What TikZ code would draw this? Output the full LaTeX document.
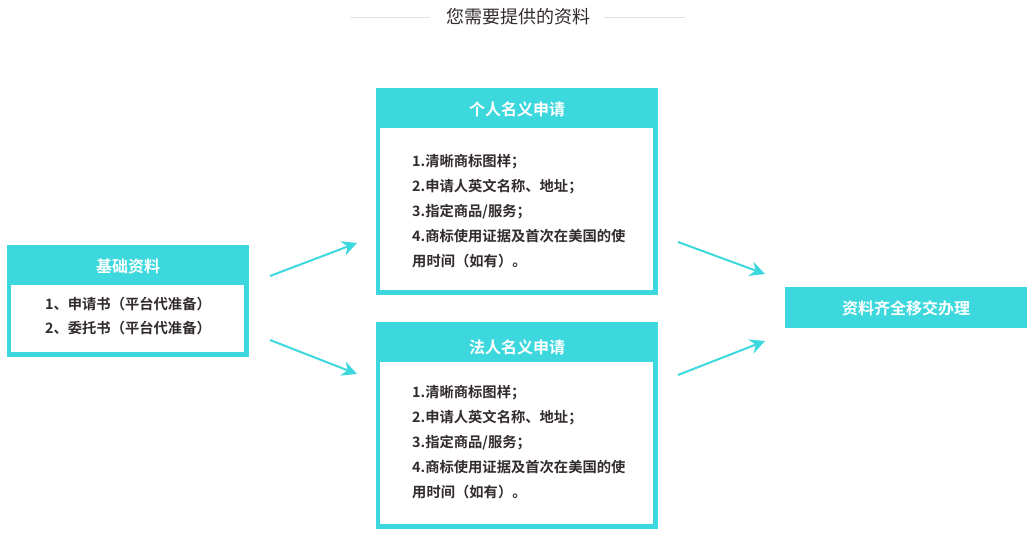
\documentclass[tikz,border=0pt]{standalone}
\usepackage{fontspec}
\usetikzlibrary{arrows.meta}
\newfontfamily\cjk{Noto Sans CJK SC}
\newfontfamily\cjkb{Noto Sans CJK SC Bold}
\definecolor{teal1}{RGB}{60,216,222}
\definecolor{txt}{RGB}{51,44,44}
\definecolor{rule1}{RGB}{224,224,224}
\tikzset{
  hdr/.style={text=white,font=\cjkb\fontsize{16}{18}\selectfont,inner sep=0pt},
  body/.style={text=txt,font=\cjkb\fontsize{14.3}{16}\selectfont,inner sep=0pt},
  flow/.style={teal1,line width=2pt,-{Stealth[length=15pt,width=15pt,inset=5pt]}},
  ttl/.style={text=txt,font=\cjk\fontsize{18}{20}\selectfont,inner sep=0pt}
}
\begin{document}
\begin{tikzpicture}[x=1pt,y=-1pt]
\useasboundingbox (0,0) rectangle (1034,540);
% title
\node[ttl] (title) at (518,17) {您需要提供的资料};
\coordinate (tl1) at (350,18); \coordinate (tl2) at (430,18);
\coordinate (tr1) at (604,18); \coordinate (tr2) at (685,18);
\draw[rule1,line width=1pt] (tl1) -- (tl2);
\draw[rule1,line width=1pt] (tr1) -- (tr2);
% box 1
\fill[teal1] (7,245) rectangle (249,357);
\fill[white] (11,285) rectangle (244,352);
\node[hdr] (h1) at (128,266) {基础资料};
\node[body,anchor=base] (b1a) at (128,309) {1、申请书（平台代准备）};
\node[body,anchor=base] (b1b) at (128,334) {2、委托书（平台代准备）};
% box 2
\fill[teal1] (376,88) rectangle (658,295);
\fill[white] (380,128) rectangle (653,290);
\node[hdr] (h2) at (517,109) {个人名义申请};
\foreach \t [count=\i] in {{1.清晰商标图样；},{2.申请人英文名称、地址；},{3.指定商品/服务；},{4.商标使用证据及首次在美国的使},{用时间（如有）。}}
  \node[body,anchor=base west] (p\i) at (412,{167+25*(\i-1)}) {\t};
% box 3
\fill[teal1] (376,322) rectangle (658,529);
\fill[white] (380,362) rectangle (653,524);
\node[hdr] (h3) at (517,347) {法人名义申请};
\foreach \t [count=\i] in {{1.清晰商标图样；},{2.申请人英文名称、地址；},{3.指定商品/服务；},{4.商标使用证据及首次在美国的使},{用时间（如有）。}}
  \node[body,anchor=base west] (q\i) at (412,{397+25*(\i-1)}) {\t};
% box 4
\fill[teal1] (785,287) rectangle (1027,328);
\node[hdr] (h4) at (906,308) {资料齐全移交办理};
% arrows
\coordinate (a1s) at (270,276); \coordinate (a1e) at (357,243);
\coordinate (a2s) at (270,340); \coordinate (a2e) at (357,374);
\coordinate (a3s) at (678,242); \coordinate (a3e) at (765,274);
\coordinate (a4s) at (678,375); \coordinate (a4e) at (765,341);
\draw[flow] (a1s) -- (a1e);
\draw[flow] (a2s) -- (a2e);
\draw[flow] (a3s) -- (a3e);
\draw[flow] (a4s) -- (a4e);
\end{tikzpicture}
\end{document}
